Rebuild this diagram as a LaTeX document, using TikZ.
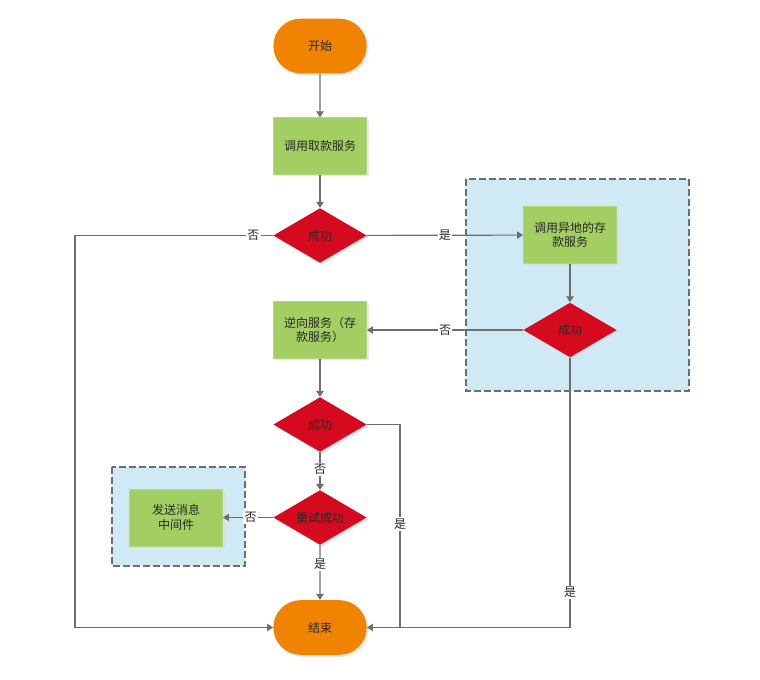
\documentclass[tikz,border=0pt]{standalone}
\usepackage{fontspec}
\setmainfont{Noto Sans CJK SC}
\usetikzlibrary{arrows.meta,shapes.geometric,shapes.misc,shadows}
\definecolor{cOrange}{RGB}{240,131,0}
\definecolor{cGreen}{RGB}{163,206,98}
\definecolor{cRed}{RGB}{214,10,30}
\definecolor{cBlue}{RGB}{208,234,245}
\definecolor{cLine}{RGB}{110,110,110}
\definecolor{cText}{RGB}{40,40,40}
\begin{document}
\begin{tikzpicture}[x=0.75pt,y=-0.75pt,
  base/.style={text=cText,font=\fontsize{9}{11}\selectfont,align=center,inner sep=0pt,
    drop shadow={shadow xshift=1.5pt,shadow yshift=-1.5pt,fill=black!15,opacity=0.6}},
  term/.style={base,rounded rectangle,fill=cOrange,minimum width=70pt,minimum height=41pt},
  proc/.style={base,rectangle,fill=cGreen,draw=cGreen!85!white,minimum width=70pt,minimum height=42.5pt,text width=62pt},
  dec/.style={base,diamond,fill=cRed,aspect=1.7,minimum width=70pt,minimum height=41pt},
  grp/.style={fill=cBlue,draw=cLine,dashed,dash pattern=on 5pt off 2.5pt,line width=0.8pt},
  arr/.style={draw=cLine,line width=0.9pt,-{Triangle[width=5.5pt,length=4.5pt]}},
  ln/.style={draw=cLine,line width=0.9pt},
  lab/.style={fill=white,text=cText,font=\fontsize{9}{11}\selectfont,inner sep=1pt}]
\useasboundingbox (0,0) rectangle (760,680);
% groups
\path[grp] (466,179) rectangle (689,391);
\path[grp] (112,467) rectangle (245,566);
% nodes
\node[term] (start) at (320,46) {开始};
\node[proc] (p1) at (320,146) {调用取款服务};
\node[dec] (d1) at (320,235.5) {成功};
\node[proc] (p2) at (570,235) {调用异地的存\\款服务};
\node[dec] (d2) at (570,330) {成功};
\node[proc] (p3) at (320,330) {逆向服务（存\\款服务）};
\node[dec] (d3) at (320,424.5) {成功};
\node[dec] (d4) at (320,517.5) {重试成功};
\node[proc] (p4) at (176,517.5) {发送消息\\中间件};
\node[term] (end) at (320,627.5) {结束};
\coordinate (cL1) at (75,235.5);
\coordinate (cL2) at (75,627.5);
\coordinate (cR1) at (400,424.5);
\coordinate (cR2) at (400,627.5);
\coordinate (cR3) at (570,627.5);
% connectors
\draw[arr] (start) -- (p1);
\draw[arr] (p1) -- (d1);
\draw[arr] (d1) -- node[lab,pos=0.5]{是} (p2);
\draw[arr] (p2) -- (d2);
\draw[arr] (d2) -- node[lab,pos=0.5]{否} (p3);
\draw[arr] (p3) -- (d3);
\draw[arr] (d3) -- node[lab,pos=0.45]{否} (d4);
\draw[arr] (d4) -- node[lab,pos=0.45]{否} (p4);
\draw[arr] (d4) -- node[lab,pos=0.35]{是} (end);
\draw[ln] (d1.west) -- node[lab,pos=0.1]{否} (cL1);
\draw[arr] (cL1) -- (cL2) -- (end.west);
\draw[ln] (d3.east) -- (cR1) -- node[lab,pos=0.49]{是} (cR2);
\draw[arr] (d2.south) -- node[lab,pos=0.87]{是} (cR3) -- (end.east);
\end{tikzpicture}
\end{document}
